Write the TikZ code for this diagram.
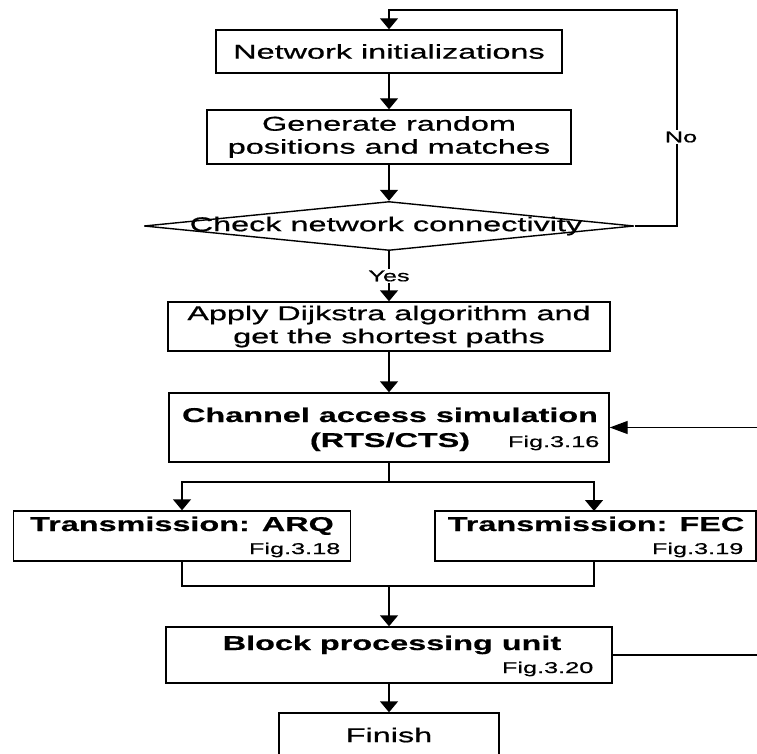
\documentclass[tikz,border=0pt]{standalone}
\usepackage{fontspec}
\setmainfont{Liberation Sans}[FakeStretch=1.62,
  UprightFeatures={FakeBold=0.7}, BoldFeatures={FakeBold=0.5}]
\newcommand{\smalltext}[1]{\scalebox{0.78}{#1}}
\usetikzlibrary{arrows.meta,shapes.geometric}
\begin{document}
\begin{tikzpicture}[x=1pt,y=-1pt,
  line width=1.4pt,
  box/.style={draw, line width=1.4pt, inner sep=0pt, align=center,
              font=\fontsize{20}{23}\selectfont},
  txt/.style={inner sep=0pt, font=\fontsize{20}{23}\selectfont},
  txtb/.style={inner sep=0pt, font=\bfseries\fontsize{20}{23}\selectfont, anchor=base},
  figref/.style={inner sep=0pt, font=\fontsize{20}{23}\selectfont, anchor=base east},
  branchlabel/.style={inner sep=1.5pt, fill=white, font=\fontsize{20}{23}\selectfont},
  varr/.style={-{Triangle[width=18pt,length=11pt]}},
  harr/.style={-{Triangle[width=13pt,length=18pt]}}]
\useasboundingbox (0,0) rectangle (757,754);
\clip (0,0) rectangle (757,754);

% process steps
\node[box, minimum width=346pt, minimum height=43pt] (init) at (389,51.5) {Network initializations};
\node[box, minimum width=364pt, minimum height=54pt] (gen) at (389,137) {Generate random\\positions and matches};
\node[diamond, draw, line width=1.4pt, inner sep=0pt, minimum width=490pt, minimum height=49pt] (chk) at (389,226) {};
\node[txt] (chktxt) at (386,226) {Check network connectivity};
\node[box, minimum width=442pt, minimum height=49pt] (dij) at (389,326.5) {Apply Dijkstra algorithm and\\get the shortest paths};

\node[box, minimum width=440pt, minimum height=69pt] (chan) at (389,427.5) {};
\node[txtb] (chan1) at (390,422) {Channel access simulation};
\node[txtb] (chan2) at (390,447) {(RTS/CTS)};
\node[figref] (chanfig) at (600,447) {\smalltext{Fig.3.16}};

\node[box, minimum width=337pt, minimum height=50pt] (arq) at (182,536) {};
\node[txtb] (arq1) at (182,531) {Transmission: ARQ};
\node[figref] (arqfig) at (341,554) {\smalltext{Fig.3.18}};

\node[box, minimum width=321pt, minimum height=50pt] (fec) at (595.5,536) {};
\node[txtb] (fec1) at (596,531) {Transmission: FEC};
\node[figref] (fecfig) at (744,554) {\smalltext{Fig.3.19}};

\node[box, minimum width=446pt, minimum height=56pt] (blk) at (389,655) {};
\node[txtb] (blk1) at (392,650) {Block processing unit};
\node[figref] (blkfig) at (594,673) {\smalltext{Fig.3.20}};

\node[box, minimum width=220pt, minimum height=60pt] (fin) at (389,743) {};
\node[txt] (fintxt) at (389,735) {Finish};

% connectors
\draw[varr] (init.south) -- (gen.north);
\draw[varr] (gen.south) -- (chk.north);
\draw[varr] (chk.south) -- (dij.north);
\node[branchlabel] (yes) at (389,276) {\smalltext{Yes}};

\coordinate (loopc) at (677,10);
\draw[varr] (chk.east) -| (loopc) -| (init.north);
\node[branchlabel] (no) at (681,137) {\smalltext{No}};

\draw[varr] (dij.south) -- (chan.north);

\coordinate (split) at (389,482);
\draw (chan.south) -- (split);
\draw[varr] (split) -| (arq.north);
\draw[varr] (split) -| (594,511);

\coordinate (merge) at (389,586);
\draw (arq.south) |- (merge);
\draw (594,561) |- (merge);
\draw[varr] (merge) -- (blk.north);
\draw[varr] (blk.south) -- (fin.north);

% feedback lines from the right
\coordinate (rt4) at (757,427.5);
\draw[harr] (rt4) -- (chan.east);
\coordinate (rt7) at (757,655);
\draw (blk.east) -- (rt7);
\end{tikzpicture}
\end{document}
